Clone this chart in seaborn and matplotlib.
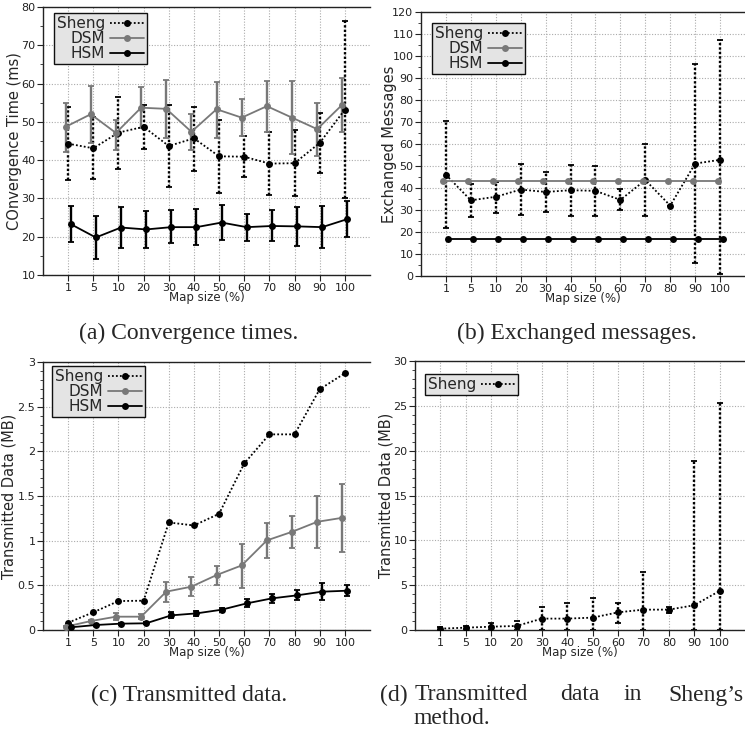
import numpy as np
import pandas as pd
import matplotlib
matplotlib.use("Agg")
import matplotlib.pyplot as plt
import seaborn as sns
from matplotlib.ticker import MultipleLocator

# ---------------- data ----------------
map_sizes = ["1", "5", "10", "20", "30", "40", "50", "60", "70", "80", "90", "100"]

# (a) convergence time (ms)
conv_sheng = [44.3, 43.1, 47.2, 48.7, 43.7, 45.7, 41.0, 40.9, 39.1, 39.2, 44.5, 53.2]
conv_sheng_lo = [34.8, 35.0, 37.8, 43.0, 32.9, 37.2, 31.3, 35.7, 30.9, 30.7, 36.7, 30.0]
conv_sheng_hi = [53.9, 51.3, 56.5, 54.3, 54.3, 53.9, 50.6, 46.3, 47.4, 47.8, 52.2, 76.3]
conv_dsm = [48.7, 52.0, 47.1, 53.7, 53.4, 47.4, 53.3, 51.1, 54.1, 51.1, 48.1, 54.5]
conv_dsm_lo = [42.1, 44.5, 42.6, 48.3, 45.9, 42.6, 45.9, 46.3, 47.4, 41.7, 41.1, 47.4]
conv_dsm_hi = [55.0, 59.3, 50.6, 59.1, 60.9, 52.0, 60.4, 56.0, 60.7, 60.7, 54.8, 61.5]
conv_hsm = [23.3, 19.8, 22.4, 21.9, 22.5, 22.5, 23.7, 22.5, 22.8, 22.7, 22.5, 24.6]
conv_hsm_lo = [18.5, 14.3, 17.1, 17.0, 18.3, 17.8, 19.1, 19.0, 18.8, 17.7, 17.0, 19.8]
conv_hsm_hi = [28.1, 25.5, 27.7, 26.7, 27.0, 27.2, 28.3, 26.0, 26.9, 27.7, 28.1, 29.3]

# (b) exchanged messages
msg_sheng = [46.0, 34.4, 36.0, 39.3, 38.2, 39.0, 38.7, 34.6, 43.6, 32.0, 51.1, 52.8]
msg_sheng_lo = [21.7, 27.0, 28.8, 27.8, 29.0, 27.5, 27.5, 30.0, 27.5, 32.0, 6.1, 0.9]
msg_sheng_hi = [70.3, 41.9, 42.9, 50.8, 47.3, 50.5, 49.9, 39.5, 60.1, 32.0, 96.5, 107.3]
msg_dsm = [43, 43, 43, 43, 43, 43, 43, 43, 43, 43, 43, 43]
msg_hsm = [17, 17, 17, 17, 17, 17, 17, 17, 17, 17, 17, 17]

# (c) transmitted data (MB)
data_sheng = [0.082, 0.198, 0.324, 0.328, 1.204, 1.170, 1.301, 1.864, 2.19, 2.19, 2.695, 2.874]
data_dsm = [0.037, 0.10, 0.149, 0.149, 0.429, 0.485, 0.615, 0.723, 1.003, 1.099, 1.211, 1.256]
data_dsm_lo = [0.030, 0.085, 0.112, 0.125, 0.309, 0.384, 0.503, 0.473, 0.801, 0.921, 0.913, 0.876]
data_dsm_hi = [0.045, 0.115, 0.186, 0.175, 0.540, 0.589, 0.719, 0.962, 1.193, 1.275, 1.502, 1.629]
data_hsm = [0.030, 0.056, 0.071, 0.075, 0.164, 0.186, 0.227, 0.298, 0.354, 0.388, 0.429, 0.440]
data_hsm_lo = [0.020, 0.046, 0.061, 0.065, 0.130, 0.156, 0.207, 0.253, 0.302, 0.332, 0.335, 0.380]
data_hsm_hi = [0.040, 0.066, 0.081, 0.085, 0.198, 0.216, 0.247, 0.343, 0.400, 0.447, 0.522, 0.499]

# (d) transmitted data, Sheng only (MB)
dsh = [0.15, 0.26, 0.37, 0.45, 1.27, 1.27, 1.38, 1.97, 2.27, 2.27, 2.76, 4.36]
dsh_lo = [0.0, 0.0, 0.0, 0.0, 0.0, 0.0, 0.0, 0.82, 0.0, 1.94, 0.0, 0.0]
dsh_hi = [0.3, 0.5, 0.74, 1.0, 2.6, 3.05, 3.58, 3.0, 6.44, 2.6, 18.9, 25.3]

# ---------------- style ----------------
sns.set_style("ticks")
plt.rcParams["font.family"] = ["DejaVu Sans"]

W, H = 745, 733
fig = plt.figure(figsize=(W / 100, H / 100), dpi=100)

BLACK = "#000000"
GRAY = "#787878"
DOT = (0, (1, 1.2))

styles = {
    "Sheng": dict(color=BLACK, ls=DOT, off=0.0),
    "DSM": dict(color=GRAY, ls="-", off=-0.1),
    "HSM": dict(color=BLACK, ls="-", off=0.1),
}


def px_axes(l, t, r, b):
    return fig.add_axes([l / W, 1 - b / H, (r - l) / W, (b - t) / H])


def series(ax, name, y, lo=None, hi=None):
    st = styles[name]
    xpos = np.arange(len(map_sizes)) + st["off"]
    df = pd.DataFrame({"x": xpos, "y": y})
    sns.lineplot(data=df, x="x", y="y", ax=ax, color=st["color"], linestyle=st["ls"],
                 lw=1.3, marker="o", markersize=5, markeredgewidth=0, label=name,
                 zorder=3)
    if lo is not None:
        y = np.asarray(y, float)
        err = [y - np.asarray(lo, float), np.asarray(hi, float) - y]
        _, caps, bars = ax.errorbar(xpos, y, yerr=err, fmt="none", ecolor=st["color"],
                                    elinewidth=1.7, capsize=2.5, capthick=1.3, zorder=2)
        if st["ls"] != "-":
            for b in bars:
                b.set_linestyle((0, (1, 0.9)))


def setup(ax, ylim, major, minor, ylabel, fmt=None, leg_off=(10, 6), ylab_x=-0.08):
    ax.set_xlim(-1.0, 12.0)
    ax.set_ylim(*ylim)
    ax.set_xticks(range(len(map_sizes)))
    ax.set_xticklabels(map_sizes)
    ax.yaxis.set_major_locator(MultipleLocator(major))
    ax.yaxis.set_minor_locator(MultipleLocator(minor))
    if fmt is not None:
        ax.yaxis.set_major_formatter(fmt)
    ax.grid(True, which="major", color="#ababab", linestyle=(0, (1, 1.5)), lw=0.8)
    ax.set_axisbelow(True)
    for s in ["left", "bottom", "top"]:
        ax.spines[s].set_color("#222222")
        ax.spines[s].set_linewidth(1.0)
    ax.spines["right"].set_visible(False)
    ax.tick_params(axis="both", which="major", labelsize=8, length=4, width=0.8,
                   direction="out", pad=1.5, colors="#222222")
    ax.tick_params(axis="y", which="minor", length=2, width=0.6, direction="out")
    ax.set_xlabel("Map size (%)", fontsize=8.5, labelpad=-1.0)
    ax.set_ylabel(ylabel, fontsize=10.5)
    ax.yaxis.set_label_coords(ylab_x, 0.5)
    bb = ax.get_position()
    wpx, hpx = bb.width * W, bb.height * H
    leg = ax.legend(loc="upper left", bbox_to_anchor=(leg_off[0] / wpx, 1 - leg_off[1] / hpx),
                    borderaxespad=0, markerfirst=False, frameon=True, fancybox=False,
                    facecolor="#e4e4e4", edgecolor="#111111", framealpha=1,
                    fontsize=11, handlelength=2.2, handletextpad=0.3, borderpad=0.2,
                    labelspacing=0.0)
    leg.get_frame().set_linewidth(1.0)


# (a)
ax1 = px_axes(43, 7, 370, 275)
series(ax1, "Sheng", conv_sheng, conv_sheng_lo, conv_sheng_hi)
series(ax1, "DSM", conv_dsm, conv_dsm_lo, conv_dsm_hi)
series(ax1, "HSM", conv_hsm, conv_hsm_lo, conv_hsm_hi)
setup(ax1, (10, 80), 10, 5, "COnvergence Time (ms)", leg_off=(11, 6), ylab_x=-0.064)

# (b)
ax2 = px_axes(421, 12, 745, 276)
series(ax2, "Sheng", msg_sheng, msg_sheng_lo, msg_sheng_hi)
series(ax2, "DSM", msg_dsm)
series(ax2, "HSM", msg_hsm)
setup(ax2, (0, 120), 10, 5, "Exchanged Messages", leg_off=(11, 11), ylab_x=-0.074)

# (c)
ax3 = px_axes(43, 362, 370, 630)
series(ax3, "Sheng", data_sheng)
series(ax3, "DSM", data_dsm, data_dsm_lo, data_dsm_hi)
series(ax3, "HSM", data_hsm, data_hsm_lo, data_hsm_hi)
setup(ax3, (0, 3), 0.5, 0.1, "Transmitted Data (MB)",
      fmt=matplotlib.ticker.FuncFormatter(lambda v, p: f"{v:g}"), leg_off=(9, 4), ylab_x=-0.082)

# (d)
ax4 = px_axes(415, 361, 745, 630)
series(ax4, "Sheng", dsh, dsh_lo, dsh_hi)
setup(ax4, (0, 30), 5, 1, "Transmitted Data (MB)", leg_off=(10, 13), ylab_x=-0.064)

# ---------------- captions ----------------
cap = dict(family="Liberation Serif", fontsize=17, va="center")
fig.text(189 / W, 1 - 333 / H, "(a) Convergence times.", ha="center", **cap)
fig.text(577 / W, 1 - 333 / H, "(b) Exchanged messages.", ha="center", **cap)
fig.text(189 / W, 1 - 695 / H, "(c) Transmitted data.", ha="center", **cap)
fig.text(380 / W, 1 - 695 / H, "(d)", ha="left", **cap)
fig.text(415 / W, 1 - 695 / H, "Transmitted", ha="left", **cap)
fig.text(560 / W, 1 - 695 / H, "data", ha="left", **cap)
fig.text(623 / W, 1 - 695 / H, "in", ha="left", **cap)
fig.text(744 / W, 1 - 695 / H, "Sheng\u2019s", ha="right", **cap)
fig.text(414 / W, 1 - 718 / H, "method.", ha="left", **cap)

fig.savefig("out.png", dpi=100)
